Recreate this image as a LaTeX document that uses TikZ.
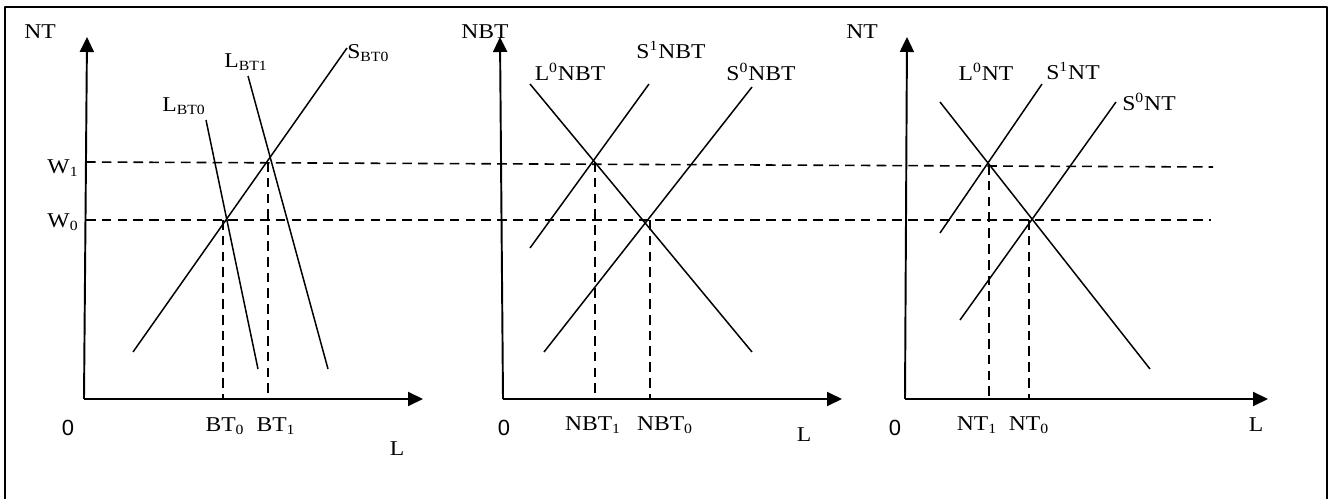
\documentclass[tikz,border=0pt]{standalone}
\usepackage{fontspec}
\setmainfont{Liberation Serif}
\newfontfamily\lblfont[FakeStretch=1.12]{Liberation Serif}
\newfontfamily\zerofont{Liberation Sans}
\usetikzlibrary{arrows.meta}

\begin{document}
\begin{tikzpicture}[x=0.02cm, y=-0.02cm, line join=round,
  axis/.style={-{Triangle[length=0.3cm,width=0.28cm]}, line width=1.1pt},
  curve/.style={line width=0.85pt},
  guide/.style={line width=0.9pt, dash pattern=on 5.5pt off 3.5pt},
  lbl/.style={font=\lblfont\fontsize{12}{14}\selectfont, inner sep=0pt},
  orig/.style={font=\zerofont\fontsize{12.5}{14}\selectfont, inner sep=0pt}]

\useasboundingbox (0,0) rectangle (1328,499);

% cornice
\draw[line width=1.2pt] (5,510) -- (5,7) -- (1327,7) -- (1327,510);

% pannello 1: BT
\coordinate (O1) at (84,399);
\coordinate (Y1) at (87,37);
\coordinate (X1) at (423,399);
\draw[axis] (O1) -- (Y1);
\draw[axis] (O1) -- (X1);

\coordinate (SBa) at (133,352);
\coordinate (SBb) at (347,48);
\coordinate (LBa) at (248,76);
\coordinate (LBb) at (328,369);
\coordinate (LAa) at (206,120);
\coordinate (LAb) at (258,369);
\draw[curve] (SBa) -- (SBb);
\draw[curve] (LBa) -- (LBb);
\draw[curve] (LAa) -- (LAb);

% pannello 2: NBT
\coordinate (O2) at (503,399);
\coordinate (Y2) at (500,37);
\coordinate (X2) at (842,399);
\draw[axis] (O2) -- (Y2);
\draw[axis] (O2) -- (X2);

\coordinate (LNa) at (530,84);
\coordinate (LNb) at (752,352);
\coordinate (SNa) at (530,248);
\coordinate (SNb) at (649,84);
\coordinate (SMa) at (544,352);
\coordinate (SMb) at (752,87);
\draw[curve] (LNa) -- (LNb);
\draw[curve] (SNa) -- (SNb);
\draw[curve] (SMa) -- (SMb);

% pannello 3: NT
\coordinate (O3) at (905,399);
\coordinate (Y3) at (907,37);
\coordinate (X3) at (1268,399);
\draw[axis] (O3) -- (Y3);
\draw[axis] (O3) -- (X3);

\coordinate (LTa) at (940,102);
\coordinate (LTb) at (1150,369);
\coordinate (STa) at (940,233);
\coordinate (STb) at (1042,84);
\coordinate (SUa) at (960,320);
\coordinate (SUb) at (1116,102);
\draw[curve] (LTa) -- (LTb);
\draw[curve] (STa) -- (STb);
\draw[curve] (SUa) -- (SUb);

% salari
\coordinate (W1a) at (86,162);
\coordinate (W1b) at (1213,167);
\coordinate (W0a) at (86,220);
\coordinate (W0b) at (1211,220);
\draw[guide] (W1a) -- (W1b);
\draw[guide] (W0a) -- (W0b);

% equilibri
\coordinate (E1) at (268,162);
\coordinate (E0) at (223,220);
\coordinate (F1) at (595,162);
\coordinate (F0) at (650,220);
\coordinate (G1) at (989,165);
\coordinate (G0) at (1029,220);
\foreach \p/\o in {E1/O1, E0/O1, F1/O2, F0/O2, G1/O3, G0/O3}
  \draw[guide] (\p) -- (\p |- \o);

% etichette
\node[lbl] (nt1) at (40,32) {NT};
\node[lbl] (w1) at (63,168) {W\textsubscript{1}};
\node[lbl] (w0) at (63,222) {W\textsubscript{0}};
\node[lbl, anchor=west] (sbt0) at (347,53) {S\textsubscript{BT0}};
\node[lbl] (lbt1) at (246,62) {L\textsubscript{BT1}};
\node[lbl] (lbt0) at (184,106) {L\textsubscript{BT0}};
\node[lbl] (bt0) at (225,426) {BT\textsubscript{0}};
\node[lbl] (bt1) at (276,426) {BT\textsubscript{1}};
\node[orig] (z1) at (68,428) {0};
\node[lbl] (l1) at (397,449) {L};

\node[lbl] (nbt) at (485,32) {NBT};
\node[lbl] (l0nbt) at (570,72) {L\textsuperscript{0}NBT};
\node[lbl] (s1nbt) at (671,50) {S\textsuperscript{1}NBT};
\node[lbl] (s0nbt) at (761,72) {S\textsuperscript{0}NBT};
\node[lbl] (nbt1) at (593,425) {NBT\textsubscript{1}};
\node[lbl] (nbt0) at (665,425) {NBT\textsubscript{0}};
\node[orig] (z2) at (504,428) {0};
\node[lbl] (l2) at (804,435) {L};

\node[lbl] (nt3) at (862,32) {NT};
\node[lbl] (l0nt) at (986,72) {L\textsuperscript{0}NT};
\node[lbl] (s1nt) at (1073,71) {S\textsuperscript{1}NT};
\node[lbl] (s0nt) at (1149,102) {S\textsuperscript{0}NT};
\node[lbl] (nt1b) at (977,425) {NT\textsubscript{1}};
\node[lbl] (nt0) at (1029,425) {NT\textsubscript{0}};
\node[orig] (z3) at (895,428) {0};
\node[lbl] (l3) at (1256,425) {L};

\end{tikzpicture}
\end{document}
